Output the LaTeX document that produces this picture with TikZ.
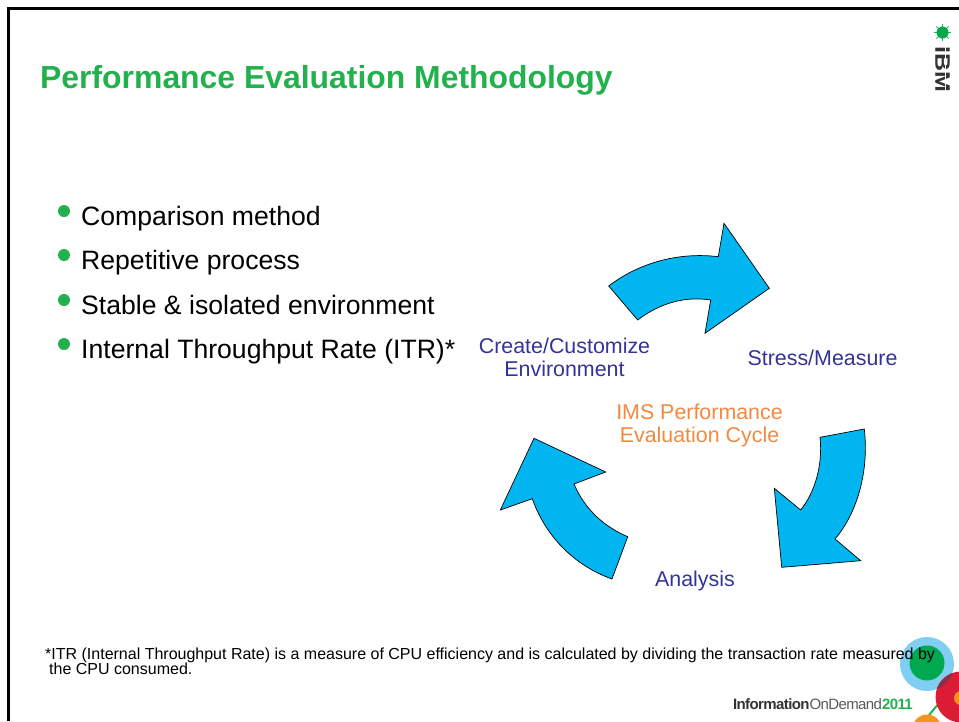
\documentclass[tikz,border=0pt]{standalone}
\usepackage{fontspec}
\setmainfont{Liberation Sans}
\definecolor{title green}{HTML}{22B14C}
\definecolor{dot green}{HTML}{00A84F}
\definecolor{cycle blue}{HTML}{00B5F0}
\definecolor{label navy}{HTML}{333399}
\definecolor{label orange}{HTML}{F58840}
\definecolor{ring blue}{HTML}{80CFF2}
\definecolor{ring red}{HTML}{DC1C36}
\definecolor{ring dark}{HTML}{8E2F45}
\definecolor{ring orange}{HTML}{F7941E}
\tikzset{
	cycle arrow/.style={draw=black,line width=0.7pt,fill=cycle blue,line join=miter},
	bullet dot/.style={circle,fill=title green,inner sep=0pt,minimum size=12pt},
	bullet text/.style={anchor=base west,inner sep=0pt,font=\fontsize{26.6}{27}\selectfont},
	step label/.style={align=center,inner sep=0pt,text=label navy,font=\fontsize{21.4}{23.5}\selectfont},
}

\begin{document}
\begin{tikzpicture}[x=1pt,y=-1pt]
	    \useasboundingbox (0,0) rectangle (959,721);

	    % Slide frame, open at the right and at the bottom
	    \draw [line width=3pt] (8.5,721) -- (8.5,8.5) -- (959,8.5);

	    % Heading
	    \node (heading) [anchor=base west,inner sep=0pt,text=title green]
		at (40,88) {\fontsize{31.9}{32}\selectfont\bfseries Performance Evaluation Methodology};

	    % Bullet list
	    \node (dot one) [bullet dot] at (64,211) {};
	    \node (dot two) [bullet dot] at (64,255) {};
	    \node (dot three) [bullet dot] at (64,300) {};
	    \node (dot four) [bullet dot] at (64,344) {};
	    \node (item one) [bullet text] at (81,225) {Comparison method};
	    \node (item two) [bullet text] at (81,269) {Repetitive process};
	    \node (item three) [bullet text] at (81,314) {Stable \& isolated environment};
	    \node (item four) [bullet text] at (81,358) {Internal Throughput Rate (ITR)*};

	    % The three curved arrows of the cycle
	    \draw [cycle arrow] (608.7,286) .. controls (640,262) and (680,252) .. (718.3,256.7)
		-- (724,223.3) -- (769.3,288.3) -- (705,333.3) -- (710.7,300)
		.. controls (685,296) and (660,303) .. (637.7,320) -- cycle;
	    \draw [cycle arrow] (864.3,429) .. controls (869,470) and (858,512) .. (835,539)
		-- (860.7,560.7) -- (781.7,567.3) -- (774.3,488.3) -- (800.7,510)
		.. controls (815,492) and (823,465) .. (820,437.3) -- cycle;
	    \draw [cycle arrow] (612,579) .. controls (573,565) and (545,535) .. (532.3,498.7)
		-- (500.3,510) -- (534,438.3) -- (605.7,472) -- (574,484)
		.. controls (585,510) and (605,527) .. (627.7,536.7) -- cycle;

	    % Labels of the cycle
	    \node (create) [step label] at (564.5,357.5) {Create/Customize\\Environment};
	    \node (stress) [step label] at (822.5,358) {Stress/Measure};
	    \node (analysis) [step label] at (695,581) {Analysis};
	    \node (centre) [step label,text=label orange] at (699.5,425.5) {IMS Performance\\Evaluation Cycle};

	    % Logo in the corner
	    \foreach \ray in {0,45,...,315}
		\draw [title green,line width=1pt] (942.5,32.5) -- ++(\ray:8.5);
	    \node (bug) [circle,fill=dot green,inner sep=0pt,minimum size=12pt] at (942.5,32.5) {};
	    \node (ibm) [rotate=-90,xscale=1.19,inner sep=0pt,text=black!80] at (942.5,69)
		{\fontsize{21}{21}\selectfont\bfseries IBM};
	    \draw [white,line width=0.9pt] (945,46) -- (945,92);

	    % Coloured rings, cut by the slide edge
	    \begin{scope}
		\clip (880,620) rectangle (959,721);
		\draw [title green,line width=2pt] (929,715) -- (940,702);
		\fill [ring blue] (927,664) circle (27);
		\fill [dot green] (927,663) circle (17.5);
		\fill [ring red] (961,697) circle (25.5);
		\begin{scope}
		    \clip (927,664) circle (27);
		    \fill [ring dark] (961,697) circle (25.5);
		\end{scope}
		\fill [ring orange] (961,698) circle (7);
		\fill [ring orange] (927,729) circle (14.5);
	    \end{scope}

	    % Footnote, it runs over the rings
	    \node (footnote) [anchor=north west,inner sep=0pt,align=left,font=\fontsize{16}{15}\selectfont] at (45,648)
		{*ITR (Internal Throughput Rate) is a measure of CPU efficiency and is calculated by dividing the transaction rate measured by\\\hspace{4pt}the CPU consumed.};

	    % Event name
	    \node (event) [anchor=base east,inner sep=0pt] at (913,709)
		{\fontsize{15}{15}\selectfont\addfontfeature{LetterSpace=-4}\textcolor{black!80}{\bfseries Information}\textcolor{black!65}{OnDemand}\textcolor{title green}{\bfseries 2011}};
	\end{tikzpicture}
\end{document}
